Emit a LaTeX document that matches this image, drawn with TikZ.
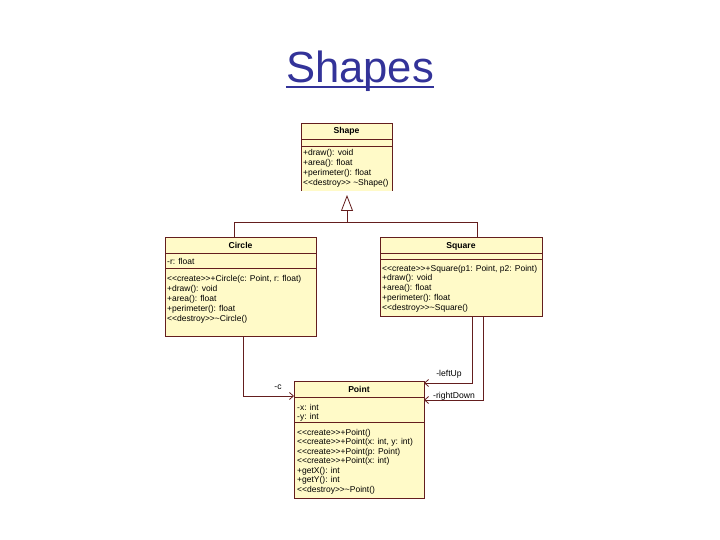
\documentclass[tikz,border=0pt]{standalone}
\usepackage{fontspec}
\setmainfont{Liberation Sans}
\usetikzlibrary{arrows.meta}
\definecolor{boxfill}{RGB}{255,250,200}
\definecolor{boxline}{RGB}{100,30,30}
\definecolor{titleblue}{RGB}{51,51,153}
\newcommand{\crt}{<{}<create>{}>}
\newcommand{\dst}{<{}<destroy>{}>}
\tikzset{
  umlbox/.style={fill=boxfill, draw=boxline, line width=0.8pt, inner sep=0pt, outer sep=0pt},
  sepline/.style={draw=boxline, line width=0.8pt},
  mline/.style={anchor=base west, inner sep=0pt, font=\fontsize{8.5}{10}\selectfont},
  hdr/.style={anchor=base, inner sep=0pt, font=\bfseries\fontsize{8.6}{10}\selectfont},
  lbl/.style={inner sep=0pt, font=\fontsize{8.6}{10}\selectfont},
  conn/.style={draw=boxline, line width=0.8pt},
  assoc/.style={conn, -{Straight Barb[length=4pt,width=7pt]}},
  gen/.style={conn, -{Triangle[open, length=16pt, width=12pt, fill=white]}}
}
\begin{document}
\begin{tikzpicture}[x=1pt,y=-1pt]
\useasboundingbox (0,0) rectangle (720,540);

% title
\node[inner sep=0pt, anchor=base, text=titleblue, font=\fontsize{43.6}{50}\selectfont] (title) at (360,83) {Shapes};
\draw[titleblue, line width=2.5pt] ([yshift=-4pt]title.base west) -- ([yshift=-4pt]title.base east);

% Shape box (no bottom border)
\node[fill=boxfill, inner sep=0pt, outer sep=0pt, minimum width=91pt, minimum height=68pt] (shapebox) at (346.5,157) {};
\draw[boxline, line width=0.8pt] (shapebox.south west) -- (shapebox.north west) -- (shapebox.north east) -- (shapebox.south east);
\draw[sepline] (shapebox.west |- 0,139) -- (shapebox.east |- 0,139);
\draw[sepline] (shapebox.west |- 0,146) -- (shapebox.east |- 0,146);
\node[hdr] (shapehdr) at (346.5,134) {Shape};
\foreach [count=\i] \t in {{+draw(): void},{+area(): float},{+perimeter(): float},{\dst\ \textasciitilde Shape()}}
  \node[mline] (sm\i) at (303,{156+10*(\i-1)}) {\t};

% Circle box
\node[umlbox, minimum width=151pt, minimum height=99pt] (circlebox) at (240.5,286.5) {};
\draw[sepline] (circlebox.west |- 0,253) -- (circlebox.east |- 0,253);
\draw[sepline] (circlebox.west |- 0,268) -- (circlebox.east |- 0,268);
\node[hdr] (circlehdr) at (240.5,248) {Circle};
\node[mline] (ca1) at (167,264) {-r: float};
\foreach [count=\i] \t in {{\crt+Circle(c: Point, r: float)},{+draw(): void},{+area(): float},{+perimeter(): float},{\dst\textasciitilde Circle()}}
  \node[mline] (cm\i) at (167,{281+10*(\i-1)}) {\t};

% Square box
\node[umlbox, minimum width=162pt, minimum height=79pt] (squarebox) at (461,276.5) {};
\draw[sepline] (squarebox.west |- 0,253) -- (squarebox.east |- 0,253);
\draw[sepline] (squarebox.west |- 0,259) -- (squarebox.east |- 0,259);
\node[hdr] (squarehdr) at (461,248) {Square};
\foreach [count=\i] \t in {{\crt+Square(p1: Point, p2: Point)},{+draw(): void},{+area(): float},{+perimeter(): float},{\dst\textasciitilde Square()}}
  \node[mline] (qm\i) at (382,{271+9.8*(\i-1)}) {\t};

% Point box
\node[umlbox, minimum width=130pt, minimum height=117pt] (pointbox) at (359,439.5) {};
\draw[sepline] (pointbox.west |- 0,397) -- (pointbox.east |- 0,397);
\draw[sepline] (pointbox.west |- 0,422) -- (pointbox.east |- 0,422);
\node[hdr] (pointhdr) at (359,392) {Point};
\node[mline] (pa1) at (297,410) {-x: int};
\node[mline] (pa2) at (297,419) {-y: int};
\foreach [count=\i] \t in {{\crt+Point()},{\crt+Point(x: int, y: int)},{\crt+Point(p: Point)},{\crt+Point(x: int)},{+getX(): int},{+getY(): int},{\dst\textasciitilde Point()}}
  \node[mline] (pm\i) at (297,{435+9.5*(\i-1)}) {\t};

% generalization
\coordinate (g0) at (347,222);
\coordinate (g1) at (234,222);
\coordinate (g2) at (477,222);
\draw[conn] (circlebox.north -| g1) -- (g1) -- (g2) -- (squarebox.north -| g2);
\draw[gen] (g0) -- ([yshift=-4pt]shapebox.south -| g0);

% associations
\coordinate (cp) at (243,396);
\coordinate (lu) at (472,383);
\coordinate (rd) at (483,400);
\draw[assoc] (circlebox.south -| cp) |- (pointbox.west |- cp);
\draw[assoc] (squarebox.south -| lu) |- (pointbox.east |- lu);
\draw[assoc] (squarebox.south -| rd) |- (pointbox.east |- rd);
\node[lbl] (lc) at (278,387) {-c};
\node[lbl] (llu) at (449,374) {-leftUp};
\node[lbl] (lrd) at (454,396) {-rightDown};
\end{tikzpicture}
\end{document}
